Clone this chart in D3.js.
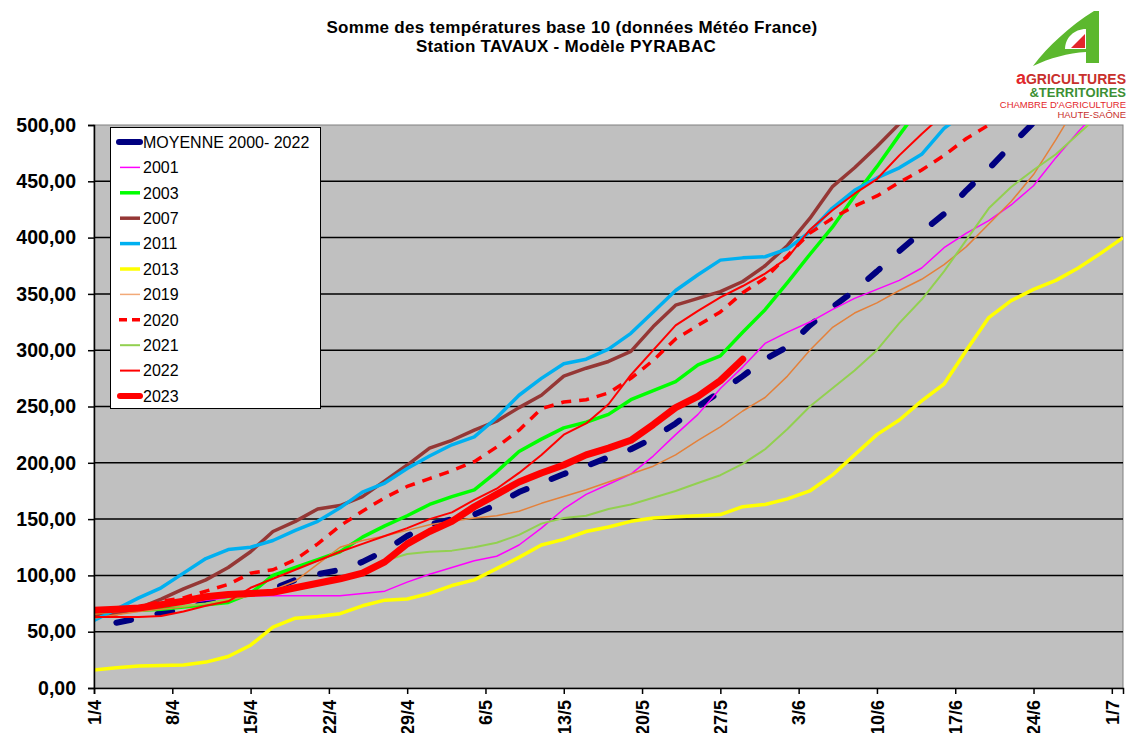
<!DOCTYPE html>
<html>
<head>
<meta charset="utf-8">
<script src="https://cdn.jsdelivr.net/npm/d3@7"></script>
<style>
body { margin: 0; background: #fff; }
text { font-family: Arial, "Liberation Sans", sans-serif; }
</style>
</head>
<body>
<svg id="chart" width="1127" height="733"></svg>
<script>
// days counted from 1 April, one point every 2 days
const days = [0, 2, 4, 6, 8, 10, 12, 14, 16, 18, 20, 22, 24, 26, 28, 30, 32, 34, 36, 38, 40, 42, 44, 46,
  48, 50, 52, 54, 56, 58, 60, 62, 64, 66, 68, 70, 72, 74, 76, 78, 80, 82, 84, 86, 88, 90, 92];
const tickDays = [0, 7, 14, 21, 28, 35, 42, 49, 56, 63, 70, 77, 84, 91];
const tickLabels = ["1/4", "8/4", "15/4", "22/4", "29/4", "6/5", "13/5", "20/5", "27/5", "3/6", "10/6", "17/6", "24/6", "1/7"];
const yTicks = [0, 50, 100, 150, 200, 250, 300, 350, 400, 450, 500];

const moyenne = [null, 58, 62, 66.5, 70, 76, 81, 84, 88, 96, 101, 105, 112, 122, 135, 145, 150, 154, 163, 174, 182, 190, 197, 205,
  212, 222, 235, 250, 263, 277, 292, 303, 322, 338, 353, 370, 388, 405, 421, 442, 461, 482, 502, 520];
const y2001 = [66, 68, 70, 72, 75, 78, 80, 82, 82, 82, 82, 82, 84, 86, 94, 101, 107, 113, 117, 127, 142, 159, 172, 181,
  190, 206, 225, 243, 266, 285, 306, 316, 325, 336, 346, 354, 362, 373, 391, 404, 415, 429, 446, 471, 494, 515];
const y2003 = [66, 68, 69, 70, 72, 74, 76, 84, 100, 107, 114, 121, 134, 144, 153, 163, 170, 176, 192, 210, 221, 231, 236, 243,
  256, 264, 272, 287, 295, 316, 336, 360, 385, 409, 437, 463, 491, 518];
const y2007 = [63, 66, 71, 79, 88, 96, 107, 121, 139, 148, 159, 162, 170, 184, 198, 213, 220, 229, 237, 249, 260, 277, 284, 290,
  299, 321, 340, 346, 352, 361, 375, 393, 417, 445, 462, 481, 501, 518];
const y2011 = [60, 70, 80, 89, 102, 115, 123, 125, 131, 140, 148, 160, 174, 182, 195, 206, 216, 223, 240, 260, 275, 288, 292, 301,
  315, 334, 353, 367, 380, 382, 383, 390, 405, 426, 442, 453, 462, 474, 497, 512];
const y2013 = [16, 18, 19.5, 20, 20.5, 23, 28, 38, 54, 62, 63.5, 66, 73, 78, 79, 84, 91, 96, 106, 116, 127, 132, 139, 143,
  148, 151, 152, 153, 154, 161, 163, 168, 175, 189, 207, 225, 238, 255, 270, 300, 329, 344, 354, 362, 373, 386, 400];
const y2019 = [62, 65, 68, 70, 72, 75, 78, 82, 87, 95, 110, 125, 131, 135, 140, 145, 148, 151, 153, 157, 164, 170, 176, 183,
  190, 197, 207, 220, 232, 246, 258, 277, 300, 320, 333, 342, 353, 363, 376, 392, 412, 432, 456, 487, 520];
const y2020 = [66, 69, 72, 77, 80, 86, 92, 102, 105, 114, 128, 144, 157, 169, 179, 186, 193, 201, 214, 229, 248, 254, 256, 262,
  275, 291, 310, 322, 334, 351, 364, 384, 404, 417, 428, 437, 449, 460, 473, 488, 500, 512];
const y2021 = [66, 68, 71, 73, 73, 75, 79, 83, 86, 89, 93, 98, 103, 113, 119, 121, 122, 125, 129, 136, 146, 151, 153, 159,
  163, 169, 175, 182, 189, 199, 212, 230, 250, 266, 282, 300, 324, 345, 370, 398, 426, 445, 460, 474, 492, 510];
const y2022 = [63, 63, 63, 64, 68, 73, 77, 89, 97, 105, 113, 121, 128, 135, 142, 150, 156, 167, 177, 191, 207, 225, 235, 252,
  278, 300, 322, 335, 347, 357, 368, 382, 407, 424, 439, 452, 473, 492, 510];
const y2023 = [69, 70, 71, 74, 77, 81, 83, 84, 85, 89, 93, 97, 102, 112, 128, 139, 148, 161, 172, 183, 191, 198, 207, 213,
  220, 234, 249, 259, 273, 292];

// legend order = drawing order
const series = [
  {name: "MOYENNE 2000- 2022", values: moyenne, color: "#000080", width: 6, dash: "15 27", cap: "round"},
  {name: "2001", values: y2001, color: "#ff00ff", width: 1.5},
  {name: "2003", values: y2003, color: "#00ff00", width: 3.5},
  {name: "2007", values: y2007, color: "#953735", width: 3.5},
  {name: "2011", values: y2011, color: "#00b0f0", width: 3.5},
  {name: "2013", values: y2013, color: "#ffff00", width: 3.5},
  {name: "2019", values: y2019, color: "#e4803a", width: 1.5, legendColor: "#f2aa78"},
  {name: "2020", values: y2020, color: "#ff0000", width: 3.5, dash: "10 8"},
  {name: "2021", values: y2021, color: "#92d050", width: 2},
  {name: "2022", values: y2022, color: "#ff0000", width: 2},
  {name: "2023", values: y2023, color: "#ff0000", width: 7, cap: "round"}
];

const svg = d3.select("#chart");
const plotLeft = 94, plotRight = 1123, plotTop = 125, plotBottom = 688;

const x = d3.scaleLinear().domain([0, 92]).range([plotLeft, plotRight]);
const y = d3.scaleLinear().domain([0, 500]).range([plotBottom, plotTop]);

// titles
svg.append("text").attr("x", 572).attr("y", 33).attr("text-anchor", "middle")
  .style("font-weight", "bold").style("font-size", "17px").style("letter-spacing", "0.3px")
  .text("Somme des températures base 10 (données Météo France)");
svg.append("text").attr("x", 566).attr("y", 52).attr("text-anchor", "middle")
  .style("font-weight", "bold").style("font-size", "17px").style("letter-spacing", "0.3px")
  .text("Station TAVAUX - Modèle PYRABAC");

// plot area
svg.append("rect").attr("x", plotLeft).attr("y", plotTop)
  .attr("width", plotRight - plotLeft).attr("height", plotBottom - plotTop)
  .attr("fill", "#c0c0c0").attr("stroke", "#808080").attr("stroke-width", 1);

// grid
svg.append("g").selectAll("line").data(yTicks.filter(d => d > 0 && d < 500)).enter().append("line")
  .attr("x1", plotLeft).attr("x2", plotRight)
  .attr("y1", d => y(d)).attr("y2", d => y(d))
  .attr("stroke", "#000").attr("stroke-width", 1.5);

// lines
svg.append("clipPath").attr("id", "clip").append("rect")
  .attr("x", plotLeft).attr("y", plotTop)
  .attr("width", plotRight - plotLeft).attr("height", plotBottom - plotTop);

const line = d3.line()
  .defined(d => d[1] != null)
  .x(d => x(d[0]))
  .y(d => y(d[1]));

const lines = svg.append("g").attr("clip-path", "url(#clip)");
series.forEach(function (s) {
  const pts = days.map((d, i) => [d, s.values[i] === undefined ? null : s.values[i]]);
  lines.append("path").datum(pts)
    .attr("d", line)
    .attr("fill", "none")
    .attr("stroke", s.color)
    .attr("stroke-width", s.width)
    .attr("stroke-linejoin", "round")
    .attr("stroke-linecap", s.cap || "butt")
    .attr("stroke-dasharray", s.dash || null);
});

// y axis
const yAxis = svg.append("g").attr("transform", `translate(${plotLeft},0)`)
  .call(d3.axisLeft(y).tickValues(yTicks).tickSize(6).tickPadding(12)
    .tickFormat(d => d.toFixed(2).replace(".", ",")));
yAxis.select(".domain").attr("stroke", "#000").attr("stroke-width", 1.5);
yAxis.selectAll(".tick line").attr("stroke", "#000").attr("stroke-width", 1.5);
yAxis.selectAll("text").style("font-size", "19.5px").style("font-weight", "bold")
  .style("font-family", "Arial, 'Liberation Sans', sans-serif").attr("fill", "#000");

// x axis, labels read upwards like the original (they run past the bottom edge there too)
const xAxis = svg.append("g").attr("transform", `translate(0,${plotBottom})`)
  .call(d3.axisBottom(x).tickValues(tickDays).tickSize(6)
    .tickFormat((d, i) => tickLabels[i]));
xAxis.select(".domain").attr("stroke", "#000").attr("stroke-width", 1.5);
xAxis.selectAll(".tick line").attr("stroke", "#000").attr("stroke-width", 1.5);
xAxis.selectAll("text")
  .style("font-size", "18px").style("font-weight", "bold")
  .style("font-family", "Arial, 'Liberation Sans', sans-serif").attr("fill", "#000")
  .attr("text-anchor", "end")
  .attr("transform", "rotate(-90)")
  .attr("x", -12).attr("y", 0).attr("dy", "0.35em");

// legend
const legend = svg.append("g");
legend.append("rect").attr("x", 110.5).attr("y", 127.5).attr("width", 210).attr("height", 281)
  .attr("fill", "#fff").attr("stroke", "#000").attr("stroke-width", 1);
const item = legend.selectAll("g.item").data(series).enter().append("g")
  .attr("class", "item")
  .attr("transform", (d, i) => `translate(0,${142 + i * 25.4})`);
item.append("line")
  .attr("x1", d => d.dash ? 119 : 120).attr("x2", 140).attr("y1", 0).attr("y2", 0)
  .attr("stroke", d => d.legendColor || d.color)
  .attr("stroke-width", d => Math.min(d.width, 6))
  .attr("stroke-linecap", d => d.width >= 6 ? "round" : "butt")
  .attr("stroke-dasharray", d => d.name === "2020" ? "8 5" : null);
item.append("text").attr("x", 143).attr("y", 0).attr("dy", "0.36em")
  .style("font-size", "16px").attr("fill", "#000")
  .text(d => d.name);

// logo
const logo = svg.append("g");
logo.append("path")
  .attr("d", "M1033,66 C1048,46 1070,26 1094,11 L1099,11 L1099,63 L1086,63 L1086,52 C1068,53 1050,58 1033,66 Z")
  .attr("fill", "#5cb82e");
logo.append("path")
  .attr("d", "M1065,49 C1065,38 1074,29 1086,29 L1086,49 Z")
  .attr("fill", "#fff");
logo.append("path")
  .attr("d", "M1071,48 L1085,34 L1085,48 Z")
  .attr("fill", "#e3262b");
const lt = logo.append("text").attr("x", 1126).attr("y", 84).attr("text-anchor", "end")
  .style("font-size", "14px").style("font-weight", "bold")
  .style("font-family", "'Liberation Sans Narrow', Arial, sans-serif");
lt.append("tspan").attr("fill", "#e3262b").style("font-size", "18px").text("a");
lt.append("tspan").attr("fill", "#c8302c").text("GRICULTURES");
logo.append("text").attr("x", 1126).attr("y", 97).attr("text-anchor", "end")
  .style("font-size", "13px").style("font-weight", "bold").attr("fill", "#3c8f34")
  .style("font-family", "'Liberation Sans Narrow', Arial, sans-serif")
  .text("&TERRITOIRES");
logo.append("text").attr("x", 1126).attr("y", 108).attr("text-anchor", "end")
  .style("font-size", "9.5px").attr("fill", "#e3262b")
  .style("font-family", "'Liberation Sans Narrow', Arial, sans-serif")
  .text("CHAMBRE D'AGRICULTURE");
logo.append("text").attr("x", 1126).attr("y", 118).attr("text-anchor", "end")
  .style("font-size", "9.5px").attr("fill", "#c8302c")
  .style("font-family", "'Liberation Sans Narrow', Arial, sans-serif")
  .text("HAUTE-SAÔNE");
</script>
</body>
</html>
